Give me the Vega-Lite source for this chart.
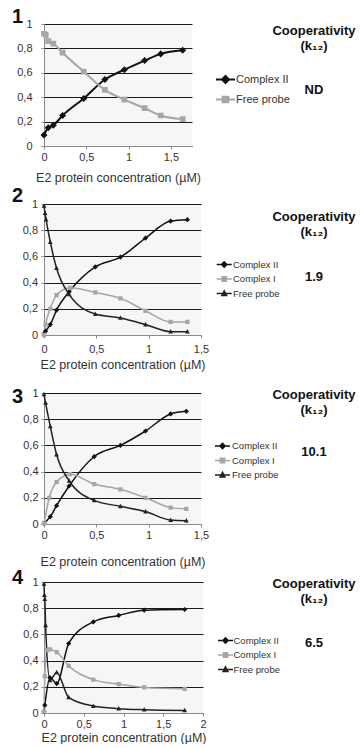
{
  "$schema": "https://vega.github.io/schema/vega-lite/v6.json",
  "background": "white",
  "padding": {"left": 12, "top": 7, "right": 0, "bottom": 0},
  "datasets": {
    "curves": [
      {"panel": 1, "species": "Complex II", "conc": 0, "frac": 0.09},
      {"panel": 1, "species": "Complex II", "conc": 0.05, "frac": 0.15},
      {"panel": 1, "species": "Complex II", "conc": 0.11, "frac": 0.17},
      {"panel": 1, "species": "Complex II", "conc": 0.22, "frac": 0.25},
      {"panel": 1, "species": "Complex II", "conc": 0.47, "frac": 0.39},
      {"panel": 1, "species": "Complex II", "conc": 0.72, "frac": 0.545},
      {"panel": 1, "species": "Complex II", "conc": 0.95, "frac": 0.625},
      {"panel": 1, "species": "Complex II", "conc": 1.19, "frac": 0.7},
      {"panel": 1, "species": "Complex II", "conc": 1.38, "frac": 0.755},
      {"panel": 1, "species": "Complex II", "conc": 1.64, "frac": 0.785},
      {"panel": 1, "species": "Free probe", "conc": 0, "frac": 0.92},
      {"panel": 1, "species": "Free probe", "conc": 0.02, "frac": 0.91},
      {"panel": 1, "species": "Free probe", "conc": 0.05, "frac": 0.86},
      {"panel": 1, "species": "Free probe", "conc": 0.11, "frac": 0.84},
      {"panel": 1, "species": "Free probe", "conc": 0.22, "frac": 0.765},
      {"panel": 1, "species": "Free probe", "conc": 0.47, "frac": 0.61},
      {"panel": 1, "species": "Free probe", "conc": 0.72, "frac": 0.46},
      {"panel": 1, "species": "Free probe", "conc": 0.95, "frac": 0.38},
      {"panel": 1, "species": "Free probe", "conc": 1.19, "frac": 0.31},
      {"panel": 1, "species": "Free probe", "conc": 1.38, "frac": 0.25},
      {"panel": 1, "species": "Free probe", "conc": 1.64, "frac": 0.22},

      {"panel": 2, "species": "Complex II", "conc": 0, "frac": 0.01},
      {"panel": 2, "species": "Complex II", "conc": 0.015, "frac": 0.03},
      {"panel": 2, "species": "Complex II", "conc": 0.06, "frac": 0.08},
      {"panel": 2, "species": "Complex II", "conc": 0.12, "frac": 0.19},
      {"panel": 2, "species": "Complex II", "conc": 0.24, "frac": 0.33},
      {"panel": 2, "species": "Complex II", "conc": 0.49, "frac": 0.52},
      {"panel": 2, "species": "Complex II", "conc": 0.73, "frac": 0.595},
      {"panel": 2, "species": "Complex II", "conc": 0.97, "frac": 0.74},
      {"panel": 2, "species": "Complex II", "conc": 1.21, "frac": 0.87},
      {"panel": 2, "species": "Complex II", "conc": 1.37, "frac": 0.88},
      {"panel": 2, "species": "Complex I", "conc": 0, "frac": 0.0},
      {"panel": 2, "species": "Complex I", "conc": 0.015, "frac": 0.08},
      {"panel": 2, "species": "Complex I", "conc": 0.06, "frac": 0.2},
      {"panel": 2, "species": "Complex I", "conc": 0.12, "frac": 0.305},
      {"panel": 2, "species": "Complex I", "conc": 0.25, "frac": 0.36},
      {"panel": 2, "species": "Complex I", "conc": 0.49, "frac": 0.325},
      {"panel": 2, "species": "Complex I", "conc": 0.73, "frac": 0.28},
      {"panel": 2, "species": "Complex I", "conc": 0.97, "frac": 0.185},
      {"panel": 2, "species": "Complex I", "conc": 1.21, "frac": 0.1},
      {"panel": 2, "species": "Complex I", "conc": 1.37, "frac": 0.1},
      {"panel": 2, "species": "Free probe", "conc": 0, "frac": 0.985},
      {"panel": 2, "species": "Free probe", "conc": 0.01, "frac": 0.93},
      {"panel": 2, "species": "Free probe", "conc": 0.02, "frac": 0.88},
      {"panel": 2, "species": "Free probe", "conc": 0.06, "frac": 0.71},
      {"panel": 2, "species": "Free probe", "conc": 0.12, "frac": 0.51},
      {"panel": 2, "species": "Free probe", "conc": 0.24, "frac": 0.31},
      {"panel": 2, "species": "Free probe", "conc": 0.49, "frac": 0.16},
      {"panel": 2, "species": "Free probe", "conc": 0.73, "frac": 0.13},
      {"panel": 2, "species": "Free probe", "conc": 0.97, "frac": 0.08},
      {"panel": 2, "species": "Free probe", "conc": 1.21, "frac": 0.025},
      {"panel": 2, "species": "Free probe", "conc": 1.37, "frac": 0.025},

      {"panel": 3, "species": "Complex II", "conc": 0, "frac": 0.005},
      {"panel": 3, "species": "Complex II", "conc": 0.06, "frac": 0.056},
      {"panel": 3, "species": "Complex II", "conc": 0.12, "frac": 0.14},
      {"panel": 3, "species": "Complex II", "conc": 0.24, "frac": 0.29},
      {"panel": 3, "species": "Complex II", "conc": 0.48, "frac": 0.515},
      {"panel": 3, "species": "Complex II", "conc": 0.73, "frac": 0.6},
      {"panel": 3, "species": "Complex II", "conc": 0.97, "frac": 0.71},
      {"panel": 3, "species": "Complex II", "conc": 1.21, "frac": 0.84},
      {"panel": 3, "species": "Complex II", "conc": 1.36, "frac": 0.86},
      {"panel": 3, "species": "Complex I", "conc": 0, "frac": 0.005},
      {"panel": 3, "species": "Complex I", "conc": 0.05, "frac": 0.2},
      {"panel": 3, "species": "Complex I", "conc": 0.12, "frac": 0.32},
      {"panel": 3, "species": "Complex I", "conc": 0.25, "frac": 0.38},
      {"panel": 3, "species": "Complex I", "conc": 0.48, "frac": 0.305},
      {"panel": 3, "species": "Complex I", "conc": 0.73, "frac": 0.265},
      {"panel": 3, "species": "Complex I", "conc": 0.97, "frac": 0.2},
      {"panel": 3, "species": "Complex I", "conc": 1.21, "frac": 0.125},
      {"panel": 3, "species": "Complex I", "conc": 1.36, "frac": 0.115},
      {"panel": 3, "species": "Free probe", "conc": 0, "frac": 0.99},
      {"panel": 3, "species": "Free probe", "conc": 0.015, "frac": 0.925},
      {"panel": 3, "species": "Free probe", "conc": 0.06, "frac": 0.745},
      {"panel": 3, "species": "Free probe", "conc": 0.12, "frac": 0.53},
      {"panel": 3, "species": "Free probe", "conc": 0.24, "frac": 0.33},
      {"panel": 3, "species": "Free probe", "conc": 0.48, "frac": 0.18},
      {"panel": 3, "species": "Free probe", "conc": 0.73, "frac": 0.135},
      {"panel": 3, "species": "Free probe", "conc": 0.97, "frac": 0.095},
      {"panel": 3, "species": "Free probe", "conc": 1.21, "frac": 0.03},
      {"panel": 3, "species": "Free probe", "conc": 1.36, "frac": 0.025},

      {"panel": 4, "species": "Complex II", "conc": 0, "frac": 0.01},
      {"panel": 4, "species": "Complex II", "conc": 0.01, "frac": 0.06},
      {"panel": 4, "species": "Complex II", "conc": 0.075, "frac": 0.27},
      {"panel": 4, "species": "Complex II", "conc": 0.16, "frac": 0.225},
      {"panel": 4, "species": "Complex II", "conc": 0.31, "frac": 0.53},
      {"panel": 4, "species": "Complex II", "conc": 0.62, "frac": 0.695},
      {"panel": 4, "species": "Complex II", "conc": 0.94, "frac": 0.745},
      {"panel": 4, "species": "Complex II", "conc": 1.26, "frac": 0.785},
      {"panel": 4, "species": "Complex II", "conc": 1.77, "frac": 0.79},
      {"panel": 4, "species": "Complex I", "conc": 0, "frac": 0.01},
      {"panel": 4, "species": "Complex I", "conc": 0.01, "frac": 0.28},
      {"panel": 4, "species": "Complex I", "conc": 0.04, "frac": 0.48},
      {"panel": 4, "species": "Complex I", "conc": 0.075, "frac": 0.485},
      {"panel": 4, "species": "Complex I", "conc": 0.16, "frac": 0.465},
      {"panel": 4, "species": "Complex I", "conc": 0.31, "frac": 0.36},
      {"panel": 4, "species": "Complex I", "conc": 0.62, "frac": 0.255},
      {"panel": 4, "species": "Complex I", "conc": 0.94, "frac": 0.22},
      {"panel": 4, "species": "Complex I", "conc": 1.26, "frac": 0.195},
      {"panel": 4, "species": "Complex I", "conc": 1.77, "frac": 0.185},
      {"panel": 4, "species": "Free probe", "conc": 0, "frac": 0.985},
      {"panel": 4, "species": "Free probe", "conc": 0.005, "frac": 0.9},
      {"panel": 4, "species": "Free probe", "conc": 0.01, "frac": 0.87},
      {"panel": 4, "species": "Free probe", "conc": 0.02, "frac": 0.67},
      {"panel": 4, "species": "Free probe", "conc": 0.075, "frac": 0.25},
      {"panel": 4, "species": "Free probe", "conc": 0.16, "frac": 0.31},
      {"panel": 4, "species": "Free probe", "conc": 0.31, "frac": 0.12},
      {"panel": 4, "species": "Free probe", "conc": 0.62, "frac": 0.053},
      {"panel": 4, "species": "Free probe", "conc": 0.94, "frac": 0.033},
      {"panel": 4, "species": "Free probe", "conc": 1.26, "frac": 0.025},
      {"panel": 4, "species": "Free probe", "conc": 1.77, "frac": 0.02}
    ],
    "coop": [
      {"panel": 1, "k12": "ND"},
      {"panel": 2, "k12": "1.9"},
      {"panel": 3, "k12": "10.1"},
      {"panel": 4, "k12": "6.5"}
    ]
  },
  "columns": 2,
  "bounds": "flush",
  "spacing": {"row": 58, "column": 66},
  "resolve": {
    "scale": {"x": "independent", "y": "independent", "color": "independent", "shape": "independent"},
    "axis": {"x": "independent", "y": "independent"},
    "legend": {"color": "independent", "shape": "independent"}
  },
  "concat": [
    {
      "data": {"name": "curves"},
      "transform": [{"filter": "datum.panel == 1"}],
      "width": 148,
      "height": 122,
      "view": {"fill": "#f6f6f6", "stroke": null},
      "title": {"text": "1", "anchor": "start", "frame": "group", "dx": -32, "offset": -25, "baseline": "alphabetic", "fontSize": 20, "fontWeight": "bold", "color": "#111111"},
      "encoding": {
        "x": {"field": "conc", "type": "quantitative", "scale": {"domain": [0, 1.75], "nice": false, "zero": false},
              "axis": {"values": [0, 0.5, 1, 1.5], "format": "~g", "labelPadding": 2.5, "titlePadding": 9, "title": "E2 protein concentration (µM)"}},
        "y": {"field": "frac", "type": "quantitative", "scale": {"domain": [0, 1], "nice": false},
              "axis": {"values": [0, 0.2, 0.4, 0.6, 0.8, 1], "format": "~g", "labelPadding": 9, "title": null}},
        "color": {"field": "species", "type": "nominal",
                  "scale": {"domain": ["Complex II", "Free probe"], "range": ["#111111", "#a6a6a6"]},
                  "legend": {"title": null, "orient": "none", "legendX": 175, "legendY": 49, "symbolSize": 121, "symbolStrokeWidth": 2, "rowPadding": 4, "labelOffset": 4, "labelFontSize": 11}}
      },
      "layer": [
        {"mark": {"type": "line", "interpolate": "monotone", "strokeWidth": 2}},
        {"mark": {"type": "point", "filled": true, "opacity": 1, "size": 121},
         "encoding": {"shape": {"field": "species", "type": "nominal",
                                "scale": {"domain": ["Complex II", "Free probe"], "range": ["M-1.73,0H1.73M0,-0.64L0.64,0L0,0.64L-0.64,0Z", "M-1.73,0H1.73M-0.52,-0.52H0.52V0.52H-0.52Z"]},
                                "legend": null}}}
      ]
    },
    {
      "data": {"name": "coop"},
      "transform": [{"filter": "datum.panel == 1"}],
      "width": 90,
      "height": 122,
      "title": {"text": ["Cooperativity", "(k₁₂)"], "anchor": "middle", "frame": "group", "offset": -39, "baseline": "alphabetic", "fontSize": 13, "fontWeight": "bold", "lineHeight": 15, "color": "#111111"},
      "mark": {"type": "text", "fontSize": 13, "fontWeight": "bold", "baseline": "middle", "color": "#111111", "dy": 5},
      "encoding": {"text": {"field": "k12"}}
    },
    {
      "data": {"name": "curves"},
      "transform": [{"filter": "datum.panel == 2"}],
      "width": 157,
      "height": 131,
      "view": {"fill": "#f6f6f6", "stroke": null},
      "title": {"text": "2", "anchor": "start", "frame": "group", "dx": -32, "offset": -24, "baseline": "alphabetic", "fontSize": 20, "fontWeight": "bold", "color": "#111111"},
      "encoding": {
        "x": {"field": "conc", "type": "quantitative", "scale": {"domain": [0, 1.5], "nice": false, "zero": false},
              "axis": {"values": [0, 0.5, 1, 1.5], "format": "~g", "labelPadding": 5.5, "titlePadding": 4, "title": "E2 protein concentration (µM)"}},
        "y": {"field": "frac", "type": "quantitative", "scale": {"domain": [0, 1], "nice": false},
              "axis": {"values": [0, 0.2, 0.4, 0.6, 0.8, 1], "format": "~g", "labelPadding": 3.5, "title": null}},
        "color": {"field": "species", "type": "nominal",
                  "scale": {"domain": ["Complex II", "Complex I", "Free probe"], "range": ["#111111", "#a6a6a6", "#222222"]},
                  "legend": {"title": null, "orient": "none", "legendX": 174.7, "legendY": 55, "symbolSize": 90, "symbolStrokeWidth": 1.5, "rowPadding": 2.5, "labelOffset": 3.3, "labelFontSize": 9.5}}
      },
      "layer": [
        {"mark": {"type": "line", "interpolate": "monotone", "strokeWidth": 1.5}},
        {"mark": {"type": "point", "filled": true, "opacity": 1, "size": 90},
         "encoding": {"shape": {"field": "species", "type": "nominal",
                                "scale": {"domain": ["Complex II", "Complex I", "Free probe"], "range": ["M-1.58,0H1.58M0,-0.55L0.55,0L0,0.55L-0.55,0Z", "M-1.58,0H1.58M-0.45,-0.45H0.45V0.45H-0.45Z", "M-1.58,0H1.58M0,-0.55L0.5,0.4H-0.5Z"]},
                                "legend": null}}}
      ]
    },
    {
      "data": {"name": "coop"},
      "transform": [{"filter": "datum.panel == 2"}],
      "width": 90,
      "height": 131,
      "title": {"text": ["Cooperativity", "(k₁₂)"], "anchor": "middle", "frame": "group", "offset": -44.5, "baseline": "alphabetic", "fontSize": 13, "fontWeight": "bold", "lineHeight": 15, "color": "#111111"},
      "mark": {"type": "text", "fontSize": 13, "fontWeight": "bold", "baseline": "middle", "color": "#111111", "dy": 7},
      "encoding": {"text": {"field": "k12"}}
    },
    {
      "data": {"name": "curves"},
      "transform": [{"filter": "datum.panel == 3"}],
      "width": 157,
      "height": 131,
      "view": {"fill": "#f6f6f6", "stroke": null},
      "title": {"text": "3", "anchor": "start", "frame": "group", "dx": -32, "offset": -35.5, "baseline": "alphabetic", "fontSize": 20, "fontWeight": "bold", "color": "#111111"},
      "encoding": {
        "x": {"field": "conc", "type": "quantitative", "scale": {"domain": [0, 1.5], "nice": false, "zero": false},
              "axis": {"values": [0, 0.5, 1, 1.5], "format": "~g", "labelPadding": 2.5, "titlePadding": 15, "title": "E2 protein concentration (µM)"}},
        "y": {"field": "frac", "type": "quantitative", "scale": {"domain": [0, 1], "nice": false},
              "axis": {"values": [0, 0.2, 0.4, 0.6, 0.8, 1], "format": "~g", "labelPadding": 3, "title": null}},
        "color": {"field": "species", "type": "nominal",
                  "scale": {"domain": ["Complex II", "Complex I", "Free probe"], "range": ["#111111", "#a6a6a6", "#222222"]},
                  "legend": {"title": null, "orient": "none", "legendX": 173, "legendY": 47.5, "symbolSize": 90, "symbolStrokeWidth": 1.5, "rowPadding": 2.5, "labelOffset": 4, "labelFontSize": 9.5}}
      },
      "layer": [
        {"mark": {"type": "line", "interpolate": "monotone", "strokeWidth": 1.5}},
        {"mark": {"type": "point", "filled": true, "opacity": 1, "size": 90},
         "encoding": {"shape": {"field": "species", "type": "nominal",
                                "scale": {"domain": ["Complex II", "Complex I", "Free probe"], "range": ["M-1.58,0H1.58M0,-0.55L0.55,0L0,0.55L-0.55,0Z", "M-1.58,0H1.58M-0.45,-0.45H0.45V0.45H-0.45Z", "M-1.58,0H1.58M0,-0.55L0.5,0.4H-0.5Z"]},
                                "legend": null}}}
      ]
    },
    {
      "data": {"name": "coop"},
      "transform": [{"filter": "datum.panel == 3"}],
      "width": 90,
      "height": 131,
      "title": {"text": ["Cooperativity", "(k₁₂)"], "anchor": "middle", "frame": "group", "offset": -33.5, "baseline": "alphabetic", "fontSize": 13, "fontWeight": "bold", "lineHeight": 15, "color": "#111111"},
      "mark": {"type": "text", "fontSize": 13, "fontWeight": "bold", "baseline": "middle", "color": "#111111", "dy": -7},
      "encoding": {"text": {"field": "k12"}}
    },
    {
      "data": {"name": "curves"},
      "transform": [{"filter": "datum.panel == 4"}],
      "width": 159,
      "height": 131,
      "view": {"fill": "#f6f6f6", "stroke": null},
      "title": {"text": "4", "anchor": "start", "frame": "group", "dx": -32, "offset": -27.5, "baseline": "alphabetic", "fontSize": 20, "fontWeight": "bold", "color": "#111111"},
      "encoding": {
        "x": {"field": "conc", "type": "quantitative", "scale": {"domain": [0, 2], "nice": false, "zero": false},
              "axis": {"values": [0, 0.5, 1, 1.5, 2], "format": "~g", "labelPadding": 2.5, "titlePadding": 1.5, "title": "E2 protein concentration (µM)"}},
        "y": {"field": "frac", "type": "quantitative", "scale": {"domain": [0, 1], "nice": false},
              "axis": {"values": [0, 0.2, 0.4, 0.6, 0.8, 1], "format": "~g", "labelPadding": 3, "title": null}},
        "color": {"field": "species", "type": "nominal",
                  "scale": {"domain": ["Complex II", "Complex I", "Free probe"], "range": ["#111111", "#a6a6a6", "#222222"]},
                  "legend": {"title": null, "orient": "none", "legendX": 176, "legendY": 53, "symbolSize": 90, "symbolStrokeWidth": 1.5, "rowPadding": 2.5, "labelOffset": 2.5, "labelFontSize": 9.5}}
      },
      "layer": [
        {"mark": {"type": "line", "interpolate": "monotone", "strokeWidth": 1.5}},
        {"mark": {"type": "point", "filled": true, "opacity": 1, "size": 90},
         "encoding": {"shape": {"field": "species", "type": "nominal",
                                "scale": {"domain": ["Complex II", "Complex I", "Free probe"], "range": ["M-1.58,0H1.58M0,-0.55L0.55,0L0,0.55L-0.55,0Z", "M-1.58,0H1.58M-0.45,-0.45H0.45V0.45H-0.45Z", "M-1.58,0H1.58M0,-0.55L0.5,0.4H-0.5Z"]},
                                "legend": null}}}
      ]
    },
    {
      "data": {"name": "coop"},
      "transform": [{"filter": "datum.panel == 4"}],
      "width": 90,
      "height": 131,
      "title": {"text": ["Cooperativity", "(k₁₂)"], "anchor": "middle", "frame": "group", "offset": -34, "baseline": "alphabetic", "fontSize": 13, "fontWeight": "bold", "lineHeight": 15, "color": "#111111"},
      "mark": {"type": "text", "fontSize": 13, "fontWeight": "bold", "baseline": "middle", "color": "#111111", "dy": -5},
      "encoding": {"text": {"field": "k12"}}
    }
  ],
  "config": {
    "font": "Liberation Sans",
    "view": {"stroke": null},
    "axis": {
      "labelFont": "Liberation Sans",
      "labelFontSize": 11,
      "labelColor": "#333333",
      "labelFlush": false,
      "domainColor": "#8a8a8a",
      "tickColor": "#8a8a8a",
      "tickSize": 3,
      "titleFont": "Liberation Sans",
      "titleFontSize": 12.5,
      "titleFontWeight": "normal",
      "titleColor": "#333333",
      "labelExpr": "replace(datum.label, '.', ',')"
    },
    "axisY": {"grid": true, "gridColor": "#1a1a1a", "gridWidth": 1, "gridOpacity": 1},
    "axisX": {"grid": false},
    "legend": {"labelFont": "Liberation Sans", "labelColor": "#333333", "padding": 0},
    "title": {"font": "Liberation Sans", "color": "#111111"}
  }
}
